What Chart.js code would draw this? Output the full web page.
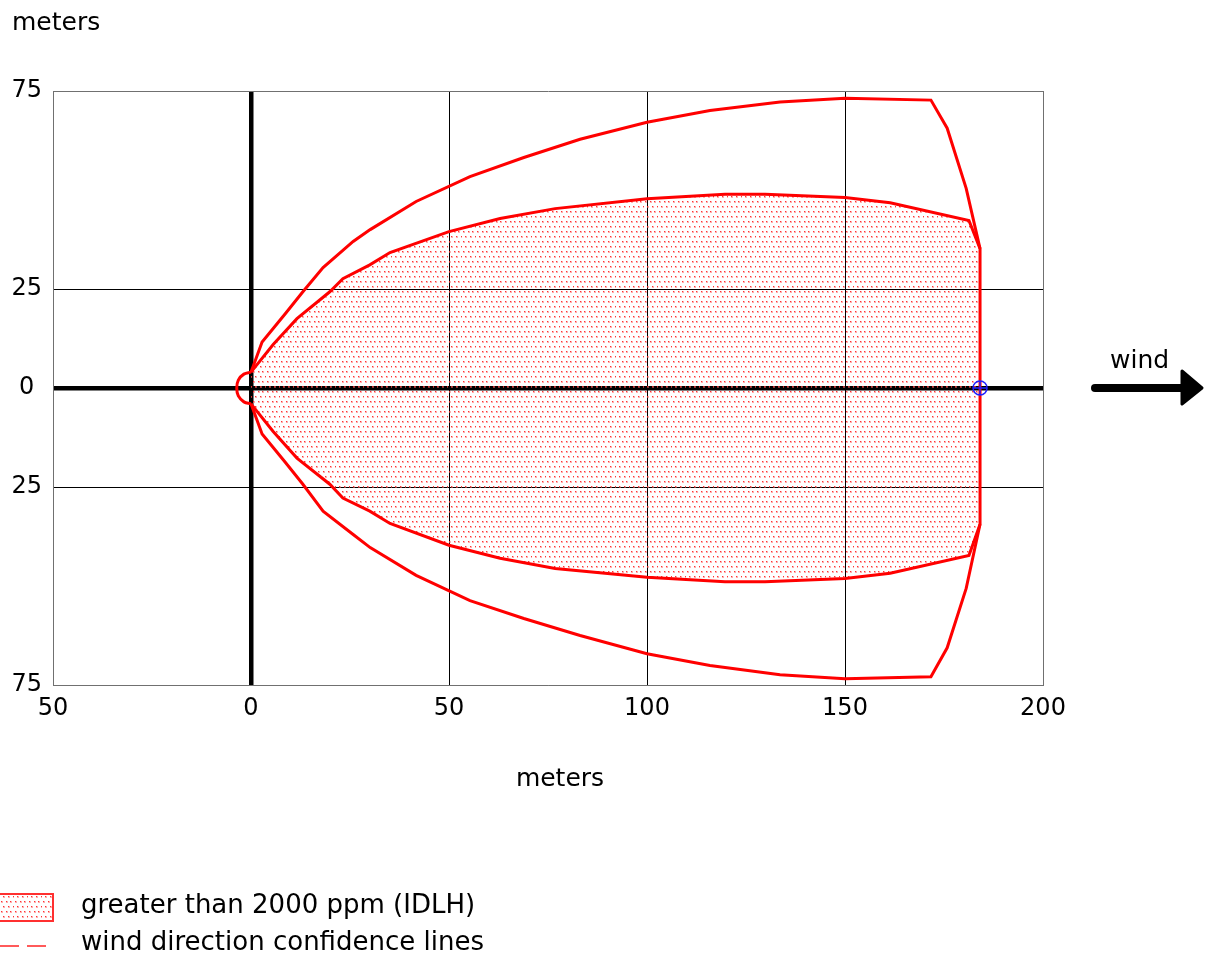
<!DOCTYPE html>
<html>
<head>
<meta charset="utf-8">
<script src="https://cdn.jsdelivr.net/npm/chart.js@4/dist/chart.umd.min.js"></script>
<style>
  html, body { margin: 0; padding: 0; background: #fff; }
  #wrap { position: relative; width: 1208px; height: 961px; }
</style>
</head>
<body>
<div id="wrap"><canvas id="c" width="1208" height="961"></canvas></div>
<script>
// Axis ticks (metres downwind / crosswind)
const xTicks = [-50, 0, 50, 100, 150, 200];
const yTicks = [-75, -25, 0, 25, 75];

// Threat zone > 2000 ppm (IDLH), upper and lower boundary
const idlhUpperX = [0, 5.6, 11.6, 19.9, 23.2, 30.0, 35.1, 50.0, 62.9, 76.8, 100.0, 119.7, 129.8, 150.0, 161.4, 181.3, 184.1, 184.1];
const idlhUpperY = [4.0, 11.0, 17.5, 24.3, 27.6, 31.1, 34.2, 39.5, 42.8, 45.3, 47.8, 48.9, 48.9, 48.1, 46.8, 42.3, 35.2, 0];
const idlhLowerX = [0, 5.6, 11.6, 19.9, 23.2, 30.0, 35.1, 50.0, 62.9, 76.8, 100.0, 119.7, 129.8, 150.0, 161.4, 181.3, 184.1, 184.1];
const idlhLowerY = [-4.0, -11.0, -17.7, -24.3, -27.8, -31.1, -34.2, -39.7, -43.0, -45.6, -47.8, -48.9, -48.9, -48.1, -46.8, -42.3, -34.4, 0];

// Small upwind lobe around the release point
const lobeX = [0, -1.8, -3.2, -3.6, -3.2, -1.8, 0];
const lobeY = [4.0, 3.5, 2.0, 0, -2.0, -3.5, -4.0];

// Wind direction confidence lines
const confUpperX = [0, 2.8, 8.6, 13.1, 18.2, 25.8, 30.1, 41.7, 55.3, 68.9, 83.1, 100.0, 115.9, 133.6, 150.0, 171.7, 175.8, 180.6, 184.1];
const confUpperY = [4.0, 11.6, 18.7, 24.3, 30.4, 37.0, 40.0, 47.1, 53.4, 58.2, 62.8, 67.1, 70.1, 72.2, 73.2, 72.7, 65.6, 50.4, 35.2];
const confLowerX = [0, 2.8, 8.6, 13.1, 18.2, 25.8, 30.1, 41.7, 55.3, 68.9, 83.1, 100.0, 115.9, 133.6, 150.0, 171.7, 175.8, 180.6, 184.1];
const confLowerY = [-4.0, -11.6, -18.7, -24.3, -31.1, -37.0, -40.3, -47.3, -53.7, -58.2, -62.5, -67.1, -70.1, -72.4, -73.4, -72.9, -65.6, -50.6, -34.4];

// Point of interest on the centreline
const markerX = [184.1];
const markerY = [0];

const legendItems = ['greater than 2000 ppm (IDLH)', 'wind direction confidence lines'];

const FONT = '"DejaVu Sans", Verdana, sans-serif';
const pts = (xs, ys) => xs.map((x, i) => ({ x, y: ys[i] }));

// Dotted red stipple used for the IDLH zone
function makeStipple() {
  const t = document.createElement('canvas');
  t.width = 14; t.height = 10;
  const g = t.getContext('2d');
  const dots = [[0, 0], [5, 0], [9, 0], [2, 5], [7, 5], [12, 5]];
  g.fillStyle = 'rgba(255,110,110,0.55)';
  dots.forEach(([x, y]) => g.fillRect(x + 1, y + 1, 2, 2));
  g.fillStyle = 'rgba(255,30,30,0.85)';
  dots.forEach(([x, y]) => g.fillRect(x + 1, y + 1, 1, 1));
  return g.createPattern(t, 'repeat');
}
const stipple = makeStipple();

const lineBase = { borderColor: '#ff0000', borderWidth: 3, pointRadius: 0, fill: false, tension: 0 };

const decorations = {
  id: 'decorations',
  afterDraw(chart) {
    const ctx = chart.ctx;
    ctx.save();
    ctx.fillStyle = '#000';
    ctx.textBaseline = 'alphabetic';
    ctx.font = '25px ' + FONT;
    ctx.textAlign = 'left';
    ctx.fillText('meters', 12, 30);
    ctx.textAlign = 'center';
    ctx.fillText('meters', 560, 786);
    ctx.textAlign = 'left';
    ctx.fillText('wind', 1110, 368);

    // wind arrow
    ctx.strokeStyle = '#000';
    ctx.fillStyle = '#000';
    ctx.lineWidth = 8;
    ctx.lineCap = 'round';
    ctx.beginPath(); ctx.moveTo(1095, 388); ctx.lineTo(1186, 388); ctx.stroke();
    ctx.lineJoin = 'round';
    ctx.lineWidth = 3;
    ctx.beginPath(); ctx.moveTo(1182, 371); ctx.lineTo(1202, 388); ctx.lineTo(1182, 404); ctx.closePath();
    ctx.fill(); ctx.stroke();

    // legend
    ctx.fillStyle = stipple;
    ctx.fillRect(0, 893, 53, 28);
    ctx.strokeStyle = '#ff3030';
    ctx.lineWidth = 2;
    ctx.lineCap = 'butt';
    ctx.lineJoin = 'miter';
    ctx.strokeRect(-1, 894, 54, 27);
    ctx.strokeStyle = '#ff5a5a';
    ctx.setLineDash([19, 8]);
    ctx.beginPath(); ctx.moveTo(0, 946); ctx.lineTo(49, 946); ctx.stroke();
    ctx.setLineDash([]);
    ctx.fillStyle = '#000';
    ctx.font = '26px ' + FONT;
    ctx.fillText(legendItems[0], 81, 913);
    ctx.fillText(legendItems[1], 81, 950);
    ctx.restore();
  }
};

function gridColor(ctx, edges) {
  const v = ctx.tick && ctx.tick.value;
  if (v === 0) return '#000';
  if (edges.includes(v)) return '#707070';
  return '#000';
}

new Chart(document.getElementById('c'), {
  type: 'line',
  data: {
    datasets: [
      Object.assign({}, lineBase, { data: pts(idlhUpperX, idlhUpperY), fill: 'origin', backgroundColor: stipple }),
      Object.assign({}, lineBase, { data: pts(idlhLowerX, idlhLowerY), fill: 'origin', backgroundColor: stipple }),
      Object.assign({}, lineBase, { data: pts(lobeX, lobeY), tension: 0.4 }),
      Object.assign({}, lineBase, { data: pts(confUpperX, confUpperY) }),
      Object.assign({}, lineBase, { data: pts(confLowerX, confLowerY) }),
      { data: pts(markerX, markerY), showLine: false, order: -1, pointStyle: 'circle', pointRadius: 7,
        pointBorderColor: '#2020ff', pointBackgroundColor: 'rgba(0,0,0,0)', pointBorderWidth: 1.5 },
      { data: pts(markerX, markerY), showLine: false, order: -2, pointStyle: 'cross', pointRadius: 7,
        pointBorderColor: '#2020ff', pointBorderWidth: 1.5 }
    ]
  },
  options: {
    responsive: false,
    animation: false,
    events: [],
    layout: { padding: { top: 91, right: 165, bottom: 0, left: 0 } },
    plugins: { legend: { display: false }, tooltip: { enabled: false }, title: { display: false } },
    scales: {
      x: {
        type: 'linear', min: -50, max: 200,
        afterBuildTicks: s => { s.ticks = xTicks.map(v => ({ value: v })); },
        afterFit: s => { s.height = 961 - 685; },
        ticks: { color: '#000', font: { family: FONT, size: 24 }, padding: 9,
                 callback: v => String(Math.abs(v)), maxRotation: 0 },
        grid: {
          drawTicks: false,
          color: c => gridColor(c, [-50, 200]),
          lineWidth: c => (c.tick && c.tick.value === 0 ? 4.5 : 1)
        },
        border: { display: true, color: '#707070', width: 1 }
      },
      y: {
        type: 'linear', min: -75, max: 75,
        afterBuildTicks: s => { s.ticks = yTicks.map(v => ({ value: v })); },
        afterFit: s => { s.width = 53; },
        ticks: { color: '#000', font: { family: FONT, size: 24 }, padding: 11, crossAlign: 'center',
                 callback: v => String(Math.abs(v)) },
        grid: {
          drawTicks: false,
          color: c => gridColor(c, [-75, 75]),
          lineWidth: c => (c.tick && c.tick.value === 0 ? 4.5 : 1)
        },
        border: { display: true, color: '#707070', width: 1 }
      }
    }
  },
  plugins: [decorations]
});
</script>
</body>
</html>
